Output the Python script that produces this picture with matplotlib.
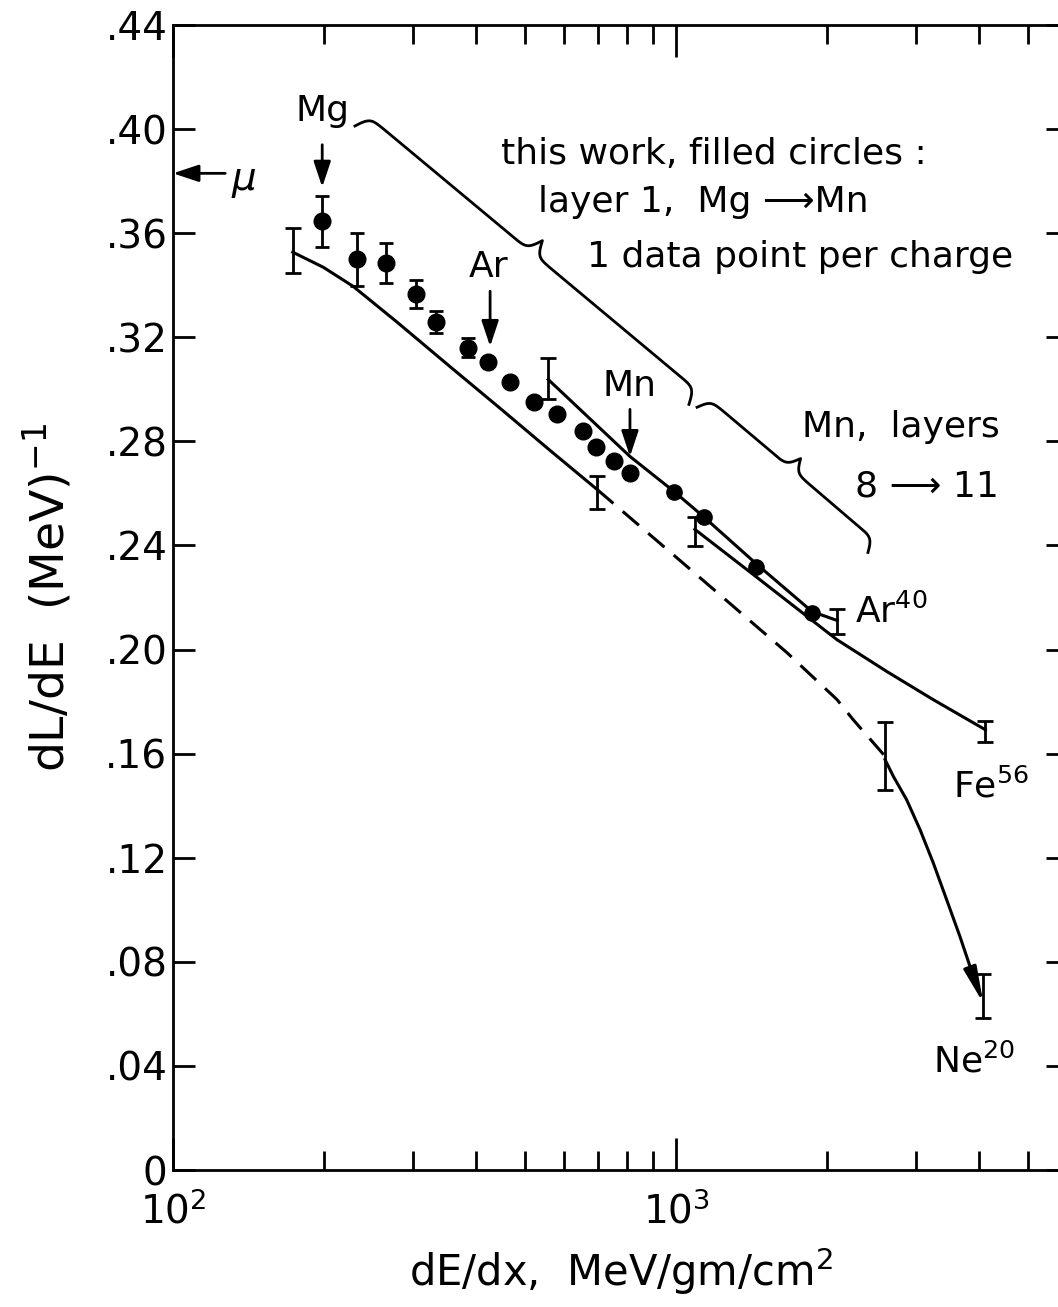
import matplotlib
matplotlib.use("Agg")
import matplotlib.pyplot as plt
import numpy as np
from matplotlib.ticker import FixedLocator, FixedFormatter, NullFormatter

plt.rcParams['font.family'] = ['DejaVu Sans']
plt.rcParams['mathtext.fontset'] = 'dejavusans'

# this work, layer 1, Mg -> Mn, one point per charge
layer1_x = [198, 232, 265, 304, 333, 386, 423, 468, 522, 580, 653, 693, 753, 810]
layer1_y = [0.3646, 0.350, 0.3485, 0.3365, 0.326, 0.316, 0.3104, 0.3027, 0.295,
            0.2904, 0.2838, 0.278, 0.2723, 0.268]
layer1_err = [0.0098, 0.0102, 0.0077, 0.0054, 0.0042, 0.0037, 0, 0, 0, 0, 0, 0, 0, 0]

# Mn, layers 8 -> 11
mn_x = [990, 1137, 1443, 1864]
mn_y = [0.2604, 0.2508, 0.2319, 0.2142]

# Ne20 calibration curve (solid, dashed, solid tail)
ne_x = [173, 199, 228, 279, 355, 447, 562, 697]
ne_y = [0.3527, 0.3469, 0.3396, 0.3258, 0.3088, 0.2927, 0.2765, 0.2615]
ne_dash_x = [697, 1086, 1662, 2089, 2249, 2604]
ne_dash_y = [0.2615, 0.2296, 0.1988, 0.1808, 0.1731, 0.159]
ne_tail_x = [2604, 2704, 2874, 3056, 3247, 3453, 3669, 3901, 4083]
ne_tail_y = [0.1577, 0.1513, 0.1423, 0.1308, 0.118, 0.1038, 0.0897, 0.0744, 0.0641]
ne_bar_x = [173, 697, 2604, 4083]
ne_bar_y = [0.3533, 0.2602, 0.1592, 0.0669]
ne_bar_err = [0.0087, 0.0063, 0.0131, 0.0083]

# Ar40 calibration curve
ar_x = [557, 810, 990, 1132, 1449, 1864, 2089]
ar_y = [0.3038, 0.2742, 0.2608, 0.2512, 0.2327, 0.2146, 0.2112]
ar_bar_x = [557, 2089]
ar_bar_y = [0.304, 0.2108]
ar_bar_err = [0.0079, 0.0048]

# Fe56 calibration curve
fe_x = [1090, 1449, 2089, 2628, 3243, 4120]
fe_y = [0.2462, 0.2277, 0.2038, 0.1915, 0.1808, 0.1692]
fe_bar_x = [1090, 4120]
fe_bar_y = [0.2454, 0.1685]
fe_bar_err = [0.0056, 0.0042]

y_ticks = [0, 0.04, 0.08, 0.12, 0.16, 0.20, 0.24, 0.28, 0.32, 0.36, 0.40, 0.44]
y_labels = ['0', '.04', '.08', '.12', '.16', '.20', '.24', '.28', '.32', '.36', '.40', '.44']
x_ticks = [100, 1000]
x_labels = ['$10^2$', '$10^3$']


def draw_brace(ax, p0, p1, width, beta=0.3, **kw):
    # curly brace between two data points, cusp on the left of p0->p1 (display coords)
    a = ax.transData.transform(p0)
    b = ax.transData.transform(p1)
    d = b - a
    L = np.hypot(*d)
    u = d / L
    n = np.array([-u[1], u[0]])
    s = np.linspace(0, L / 2, 300)
    half = 1 / (1 + np.exp(-beta * (s - s[0]))) + 1 / (1 + np.exp(-beta * (s - s[-1]))) - 0.5
    along = np.concatenate([s, L - s[-2::-1]])
    off = np.concatenate([half, half[-2::-1]]) * width
    pts = a + np.outer(along, u) + np.outer(off, n)
    pts = ax.transAxes.inverted().transform(pts)
    ax.plot(pts[:, 0], pts[:, 1], transform=ax.transAxes, clip_on=False, **kw)


fig = plt.figure(figsize=(10.58, 13.07), dpi=100)
ax = fig.add_axes([173 / 1058, 1 - 1170 / 1307, 895 / 1058, 1145 / 1307])
ax.set_xscale('log')
ax.set_xlim(100, 100 * 10 ** (895 / 503))
ax.set_ylim(0, 0.44)

lw = 2.2
ebkw = dict(fmt='none', ecolor='k', elinewidth=2, capsize=5.5, capthick=2)

# curves
ax.plot(ne_x, ne_y, color='k', lw=lw)
ax.plot(ne_dash_x, ne_dash_y, color='k', lw=lw, ls=(0, (7, 4)))
ax.plot(ne_tail_x[:-1], ne_tail_y[:-1], color='k', lw=lw)
ax.annotate('', xy=(ne_tail_x[-1], ne_tail_y[-1]), xytext=(ne_tail_x[-2], ne_tail_y[-2]),
            arrowprops=dict(arrowstyle='-|>,head_length=1.2,head_width=0.22', color='k',
                            lw=lw, shrinkA=0, shrinkB=0, mutation_scale=18))
ax.plot(ar_x, ar_y, color='k', lw=lw)
ax.plot(fe_x, fe_y, color='k', lw=lw)
ax.errorbar(ne_bar_x, ne_bar_y, yerr=ne_bar_err, **ebkw)
ax.errorbar(ar_bar_x, ar_bar_y, yerr=ar_bar_err, **ebkw)
ax.errorbar(fe_bar_x, fe_bar_y, yerr=fe_bar_err, **ebkw)

# data points
ax.errorbar(layer1_x, layer1_y, yerr=layer1_err, fmt='o', color='k', ms=12,
            elinewidth=2, capsize=5, capthick=2)
ax.plot(mn_x, mn_y, 'o', color='k', ms=11)

# arrows and element labels
akw = dict(arrowstyle='-|>,head_length=0.6,head_width=0.2', color='k', lw=2,
           shrinkA=0, shrinkB=0, mutation_scale=26)
ax.annotate('', xy=(100, 0.383), xytext=(127, 0.383), arrowprops=akw, annotation_clip=False)
ax.text(138, 0.380, r'$\mu$', fontsize=28, ha='center', va='center')
ax.annotate('', xy=(198, 0.3777), xytext=(198, 0.394), arrowprops=akw)
ax.text(198, 0.407, 'Mg', fontsize=26, ha='center', va='center')
ax.annotate('', xy=(427, 0.3165), xytext=(427, 0.3377), arrowprops=akw)
ax.text(424, 0.347, 'Ar', fontsize=26, ha='center', va='center')
ax.annotate('', xy=(810, 0.2742), xytext=(810, 0.2923), arrowprops=akw)
ax.text(810, 0.3012, 'Mn', fontsize=26, ha='center', va='center')

ax.text(449, 0.3904, 'this work, filled circles :', fontsize=26, ha='left', va='center')
ax.text(532, 0.372, 'layer 1,  Mg \u27f6Mn', fontsize=26, ha='left', va='center')
ax.text(665, 0.3508, '1 data point per charge', fontsize=26, ha='left', va='center')
ax.text(1780, 0.2854, 'Mn,  layers', fontsize=26, ha='left', va='center')
ax.text(2269, 0.2627, '8 \u27f6 11', fontsize=26, ha='left', va='center')
ax.text(2269, 0.2146, r'Ar$^{40}$', fontsize=26, ha='left', va='center')
ax.text(3554, 0.1473, r'Fe$^{56}$', fontsize=26, ha='left', va='center')
ax.text(3243, 0.0419, r'Ne$^{20}$', fontsize=26, ha='left', va='center')

# braces
draw_brace(ax, (230, 0.4012), (1061, 0.2942), 32, color='k', lw=2)
draw_brace(ax, (1101, 0.2931), (2408, 0.2373), 28, color='k', lw=2)

# axes styling
ax.yaxis.set_major_locator(FixedLocator(y_ticks))
ax.yaxis.set_major_formatter(FixedFormatter(y_labels))
ax.xaxis.set_major_locator(FixedLocator(x_ticks))
ax.xaxis.set_major_formatter(FixedFormatter(x_labels))
ax.xaxis.set_minor_locator(FixedLocator([200, 300, 400, 500, 600, 700, 800, 900,
                                         2000, 3000, 4000, 5000]))
ax.xaxis.set_minor_formatter(NullFormatter())
ax.tick_params(which='both', direction='in', top=True, right=True, width=2, colors='k')
ax.tick_params(axis='x', which='major', length=23, labelsize=28, pad=16)
ax.tick_params(axis='x', which='minor', length=14)
ax.tick_params(axis='y', which='major', length=16, labelsize=28, pad=4)
for sp in ax.spines.values():
    sp.set_linewidth(2)

ax.set_xlabel(r'dE/dx,  MeV/gm/cm$^2$', fontsize=30, labelpad=10)
ax.set_ylabel(r'dL/dE  (MeV)$^{-1}$', fontsize=34, labelpad=22)

fig.savefig('out.png', dpi=100)
